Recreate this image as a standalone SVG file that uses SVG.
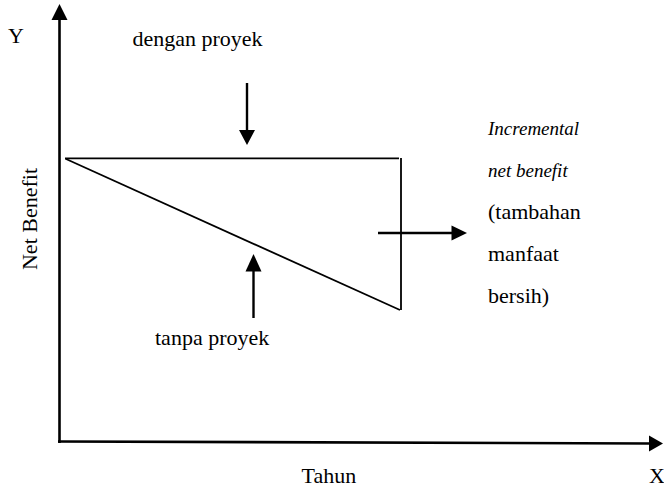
<svg xmlns="http://www.w3.org/2000/svg" width="664" height="488" viewBox="0 0 664 488">
<style>
text{font-family:"Liberation Serif","Times New Roman",serif;font-size:22px;fill:#000}
.it{font-style:italic;font-size:19px}
.axis{stroke:#000;stroke-width:2.6;fill:none}
.ln{stroke:#000;stroke-width:1.8;fill:none}
.ar{stroke:#000;stroke-width:2.4;fill:none}
.head{fill:#000;stroke:none}
</style>
<rect width="664" height="488" fill="#fff"/>
<g id="connectors">
<line class="axis" x1="59.5" y1="443" x2="59.5" y2="18"/>
<polygon class="head" points="59.5,4 51.5,20 67.5,20"/>
<line class="axis" x1="58" y1="441.5" x2="651" y2="443.5"/>
<polygon class="head" points="663,443.5 649,435.5 649,451.5"/>
<line class="ar" x1="247" y1="83" x2="247" y2="132"/>
<polygon class="head" points="247,145 239,130 255,130"/>
<line class="ar" x1="253.5" y1="318" x2="253.5" y2="270"/>
<polygon class="head" points="253.5,254 245.5,271.5 261.5,271.5"/>
<line class="ar" x1="378" y1="233" x2="453" y2="233"/>
<polygon class="head" points="467,233 451.5,225.5 451.5,240.5"/>
</g>
<g id="region">
<line class="ln" x1="65" y1="158.3" x2="399" y2="158.3"/>
<line class="ln" x1="401" y1="158" x2="401" y2="310"/>
<line class="ln" x1="65.5" y1="158.8" x2="400" y2="310"/>
</g>
<g id="axis-y-label"><text x="8" y="43">Y</text></g>
<g id="axis-x-label"><text x="649" y="483">X</text></g>
<g id="tahun"><text x="301.5" y="483">Tahun</text></g>
<g id="net-benefit"><text transform="translate(37,219) rotate(-90)" text-anchor="middle">Net Benefit</text></g>
<g id="dengan-proyek"><text x="132.5" y="46">dengan proyek</text></g>
<g id="tanpa-proyek"><text x="155" y="345">tanpa proyek</text></g>
<g id="incremental">
<text class="it" x="488" y="135">Incremental</text>
<text class="it" x="488" y="177">net benefit</text>
<text x="488" y="219">(tambahan</text>
<text x="488" y="261">manfaat</text>
<text x="488" y="303">bersih)</text>
</g>
</svg>
